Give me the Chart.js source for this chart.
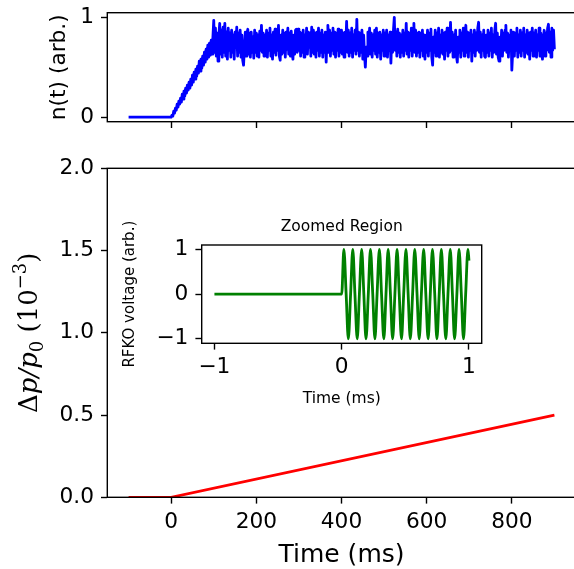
<!DOCTYPE html>
<html>
<head>
<meta charset="utf-8">
<script src="https://cdn.jsdelivr.net/npm/chart.js@4.4.1/dist/chart.umd.min.js"></script>
<style>
  html, body { margin: 0; padding: 0; background: #fff; overflow: hidden; }
  #wrap { position: relative; width: 574px; height: 569px; overflow: hidden; }
  canvas { position: absolute; }
</style>
</head>
<body>
<div id="wrap">
  <canvas id="main" width="578" height="569" style="left:0;top:0"></canvas>
  <canvas id="top" width="578" height="140" style="left:0;top:0"></canvas>
  <canvas id="inset" width="400" height="220" style="left:100px;top:200px"></canvas>
</div>
<script>
// tick values
const timeTicks = [0, 200, 400, 600, 800];
const dpTicks = [0, 0.5, 1.0, 1.5, 2.0];
const nTicks = [0, 1];
const insetTicks = [-1, 0, 1];

// n(t): flat before 0, then sampled every 2 ms
const nStartT = -100;
const nStep = 2;
const nRamp = [
  .00, .02, .01, .06, .04, .09, .07, .13, .10, .16, .13, .19, .15, .23, .18, .26, .21, .29, .24, .32,
  .27, .35, .29, .38, .32, .42, .35, .45, .38, .48, .41, .51, .44, .56, .46, .58, .49, .61, .52, .65,
  .55, .68, .58, .72, .60, .74, .62, .77, .63, .80
];
const nPlateau = [
  .97, .65, .89, .61, .84, .56, .82, .94, .63, .87, .60, .90, .65, .94, .61, .85, .58, .89, .67, .84,
  .60, .87, .65, .82, .58, .85, .70, .90, .61, .84, .65, .87, .60, .82, .57, .52, .70, .85, .61, .84,
  .88, .63, .84, .60, .85, .65, .80, .59, .87, .65, .84, .61, .82, .60, .86, .67, .92, .65, .84, .61,
  .82, .63, .87, .60, .84, .67, .89, .61, .82, .58, .85, .65, .88, .62, .83, .67, .92, .61, .57, .82,
  .63, .87, .65, .84, .60, .85, .68, .89, .63, .84, .61, .86, .65, .58, .82, .63, .87, .88, .65, .88,
  .67, .85, .61, .84, .65, .87, .60, .82, .67, .89, .63, .85, .70, .84, .61, .90, .65, .87, .63, .84,
  .60, .85, .67, .89, .61, .84, .65, .87, .60, .82, .65, .85, .55, .80, .92, .65, .87, .61, .84, .67,
  .89, .63, .85, .60, .84, .67, .88, .61, .82, .65, .87, .63, .84, .60, .85, .70, .96, .65, .87, .61,
  .84, .65, .89, .60, .82, .67, .87, .63, .98, .67, .85, .61, .84, .65, .87, .58, .82, .63, .50, .70,
  .61, .85, .65, .89, .63, .84, .60, .82, .67, .87, .63, .89, .60, .84, .65, .85, .58, .82, .67, .87,
  .61, .84, .65, .87, .60, .82, .67, .85, .54, .80, .65, .87, 1.0, .67, .85, .61, .88, .65, .84, .60,
  .82, .65, .87, .61, .84, .67, .94, .63, .85, .60, .84, .67, .89, .61, .82, .94, .65, .87, .61, .84,
  .65, .85, .60, .84, .67, .87, .61, .82, .58, .80, .65, .87, .61, .84, .67, .88, .60, .52, .80, .65,
  .87, .61, .84, .67, .89, .60, .82, .65, .87, .63, .84, .58, .85, .67, .89, .61, .84, .65, .95, .67,
  .85, .60, .82, .65, .87, .61, .55, .80, .65, .87, .60, .84, .67, .89, .61, .82, .92, .65, .85, .60,
  .84, .67, .87, .56, .82, .65, .87, .61, .84, .67, .89, .95, .65, .85, .60, .82, .67, .87, .61, .60,
  .82, .65, .87, .61, .84, .67, .89, .60, .82, .65, .87, .94, .63, .84, .60, .56, .80, .65, .87, .61,
  .84, .67, .87, .92, .65, .84, .60, .82, .67, .87, .47, .65, .85, .61, .84, .67, .89, .60, .82, .65,
  .87, .61, .84, .67, .89, .60, .82, .65, .87, .63, .84, .58, .85, .67, .89, .61, .84, .65, .87, .60,
  .82, .67, .89, .61, .84, .65, .58, .80, .87, .61, .84, .67, .89, .93, .65, .85, .60, .89, .67, .87,
  .68
];

// momentum offset dp/p0 (1e-3)
const dpTime = [-100, 0, 900];
const dpValue = [0, 0, 0.5];

// RFKO voltage in the inset (ms, arb.)
const rfTime = [
  -1, 0, .017, .035, .052, .070, .087, .104, .122, .139, .157, .174, .191, .209, .226, .244, .261,
  .278, .296, .313, .331, .348, .365, .383, .400, .418, .435, .452, .470, .487, .505, .522, .539,
  .557, .574, .592, .609, .626, .644, .661, .679, .696, .713, .731, .748, .766, .783, .800, .818,
  .835, .853, .870, .887, .905, .922, .940, .957, .974, .992, 1.0
];
const rfValue = [
  0, 0, 1, 0, -1, 0, 1, 0, -1, 0, 1, 0, -1, 0, 1, 0, -1, 0, 1, 0, -1, 0, 1, 0, -1, 0, 1, 0, -1,
  0, 1, 0, -1, 0, 1, 0, -1, 0, 1, 0, -1, 0, 1, 0, -1, 0, 1, 0, -1, 0, 1, 0, -1, 0, 1, 0, -1,
  0, 1, 0.75
];

Chart.defaults.font.family = "'DejaVu Sans'";
Chart.defaults.color = '#000';
Chart.defaults.animation = false;
Chart.defaults.events = [];
Chart.defaults.plugins.legend.display = false;
Chart.defaults.plugins.tooltip.enabled = false;

const nPoints = [{x: nStartT, y: 0}].concat(
  nRamp.concat(nPlateau).map((v, i) => ({x: i * nStep, y: v}))
);
const dpPoints = dpTime.map((t, i) => ({x: t, y: dpValue[i]}));
const rfPoints = rfTime.map((t, i) => ({x: t, y: rfValue[i]}));

// force the axis boxes to a fixed size so the plot areas land where they should
function fixBox(size) {
  return scale => {
    if (scale.isHorizontal()) scale.height = size;
    else scale.width = size;
    scale.paddingTop = scale.paddingBottom = scale.paddingLeft = scale.paddingRight = 0;
  };
}
const setTicks = vals => scale => { scale.ticks = vals.map(v => ({value: v})); };
const minus = v => (v < 0 ? '\u2212' + Math.abs(v) : String(v));

const tickGrid = {drawOnChartArea: false, drawTicks: true, tickLength: 6.3, tickWidth: 1.4, tickColor: '#000'};

const frame = {
  id: 'frame',
  beforeDraw(chart, args, opts) {
    if (!opts.fill) return;
    const {ctx, chartArea: a} = chart;
    ctx.save();
    ctx.fillStyle = '#fff';
    ctx.fillRect(a.left, a.top, a.right - a.left, a.bottom - a.top);
    ctx.restore();
  },
  afterDraw(chart) {
    const {ctx, chartArea: a} = chart;
    ctx.save();
    ctx.strokeStyle = '#000';
    ctx.lineWidth = 1.4;
    ctx.strokeRect(a.left, a.top, a.right - a.left, a.bottom - a.top);
    ctx.restore();
  }
};

const line = (data, color, extra) => Object.assign({
  data, borderColor: color, borderWidth: 2.8, pointRadius: 0,
  borderJoinStyle: 'round', borderCapStyle: 'butt', tension: 0
}, extra || {});

// main panel: dp/p0 vs time, y label set as math (italic p, subscript, superscript)
const dpLabel = {
  id: 'dpLabel',
  afterDraw(chart) {
    const {ctx, chartArea: a} = chart;
    const parts = [
      {s: '\u0394', f: '26px "DejaVu Serif"', dy: 0},
      {s: 'p/p', f: 'italic 26px "DejaVu Serif"', dy: 0},
      {s: '0', f: '18px "DejaVu Serif"', dy: 5.5},
      {s: ' (10', f: '26px "DejaVu Serif"', dy: 0},
      {s: '\u22123', f: '18px "DejaVu Serif"', dy: -11},
      {s: ')', f: '26px "DejaVu Serif"', dy: 0}
    ];
    ctx.save();
    let total = 0;
    parts.forEach(p => { ctx.font = p.f; p.w = ctx.measureText(p.s).width; total += p.w; });
    ctx.translate(28, (a.top + a.bottom) / 2);
    ctx.rotate(-Math.PI / 2);
    ctx.fillStyle = '#000';
    ctx.textBaseline = 'alphabetic';
    let x = -total / 2;
    parts.forEach(p => {
      ctx.font = p.f;
      ctx.fillText(p.s, x, 9 + p.dy);
      x += p.w;
    });
    ctx.restore();
  }
};

new Chart(document.getElementById('main'), {
  type: 'line',
  data: {datasets: [line(dpPoints, '#ff0000')]},
  options: {
    responsive: false,
    layout: {padding: {top: 168.3, right: 2.3, left: 0, bottom: 0}},
    scales: {
      x: {
        type: 'linear', min: -150, max: 950,
        afterBuildTicks: setTicks(timeTicks),
        afterFit: fixBox(71.7),
        border: {display: false},
        grid: tickGrid,
        ticks: {font: {size: 21.7}, padding: 5.4, maxRotation: 0, autoSkip: false, callback: v => String(v)},
        title: {display: true, text: 'Time (ms)', font: {size: 25, lineHeight: 1}, padding: {top: 0, bottom: 1.5}}
      },
      y: {
        type: 'linear', min: 0, max: 2,
        afterBuildTicks: setTicks(dpTicks),
        afterFit: fixBox(107.3),
        border: {display: false},
        grid: tickGrid,
        ticks: {font: {size: 21.7}, padding: 7, callback: v => v.toFixed(1)}
      }
    }
  },
  plugins: [frame, dpLabel]
});

// top panel: n(t)
new Chart(document.getElementById('top'), {
  type: 'line',
  data: {datasets: [line(nPoints, '#0000ff')]},
  options: {
    responsive: false,
    layout: {padding: {top: 12.7, right: 2.3, left: 0, bottom: 0}},
    scales: {
      x: {
        type: 'linear', min: -150, max: 950,
        afterBuildTicks: setTicks(timeTicks),
        afterFit: fixBox(140 - 121.7),
        border: {display: false},
        grid: tickGrid,
        ticks: {display: false}
      },
      y: {
        type: 'linear', min: -0.046, max: 1.046,
        afterBuildTicks: setTicks(nTicks),
        afterFit: fixBox(107.3),
        border: {display: false},
        grid: tickGrid,
        ticks: {font: {size: 21.7}, padding: 7, callback: v => String(v)},
        title: {display: true, text: 'n(t) (arb.)', font: {size: 21.7}, padding: {top: 46.8, bottom: 0}}
      }
    }
  },
  plugins: [frame]
});

// inset: RFKO voltage
const insetTitle = {
  id: 'insetTitle',
  afterDraw(chart) {
    const {ctx, chartArea: a} = chart;
    ctx.save();
    ctx.font = '15.5px "DejaVu Sans"';
    ctx.fillStyle = '#000';
    ctx.textAlign = 'center';
    ctx.textBaseline = 'middle';
    ctx.fillText('Zoomed Region', (a.left + a.right) / 2, a.top - 18);
    ctx.restore();
  }
};

new Chart(document.getElementById('inset'), {
  type: 'line',
  data: {datasets: [line(rfPoints, '#008000', {cubicInterpolationMode: 'monotone'})]},
  options: {
    responsive: false,
    layout: {padding: {top: 45, right: 18.3, left: 0, bottom: 0}},
    plugins: {frame: {fill: true}},
    scales: {
      x: {
        type: 'linear', min: -1.1, max: 1.1,
        afterBuildTicks: setTicks(insetTicks),
        afterFit: fixBox(220 - 143.3),
        border: {display: false},
        grid: tickGrid,
        ticks: {font: {size: 21.7}, padding: 4.4, maxRotation: 0, callback: minus},
        title: {display: true, text: 'Time (ms)', font: {size: 15.5}, padding: {top: 0, bottom: 12}}
      },
      y: {
        type: 'linear', min: -1.1, max: 1.1,
        afterBuildTicks: setTicks(insetTicks),
        afterFit: fixBox(101.7),
        border: {display: false},
        grid: tickGrid,
        ticks: {font: {size: 21.7}, padding: 7, callback: minus},
        title: {display: true, text: 'RFKO voltage (arb.)', font: {size: 15}, padding: {top: 21, bottom: 0}}
      }
    }
  },
  plugins: [frame, insetTitle]
});
</script>
</body>
</html>
